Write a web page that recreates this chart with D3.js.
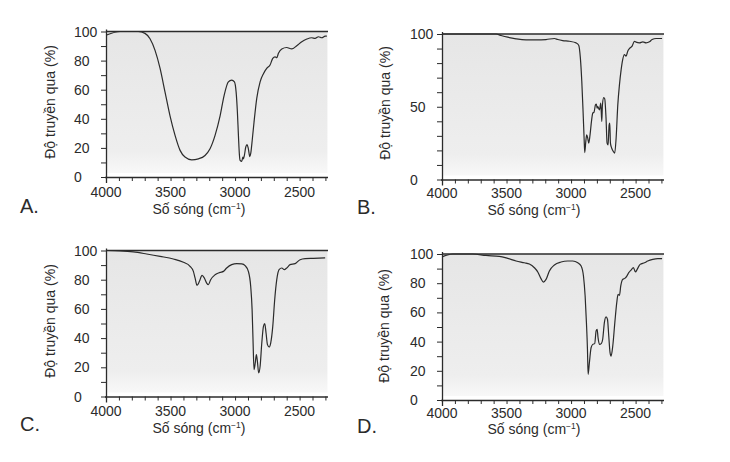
<!DOCTYPE html>
<html>
<head>
<meta charset="utf-8">
<script src="https://cdn.jsdelivr.net/npm/d3@7"></script>
<style>
  html, body { margin: 0; padding: 0; background: #ffffff; }
  svg text { font-family: "Liberation Sans", Arial, sans-serif; fill: #2b2b2b; }
</style>
</head>
<body>
<svg id="chart" width="730" height="462"></svg>
<script>
// ---------- DATA ----------
const panelLetters = ["A.", "B.", "C.", "D."];
const xTickLabels = [4000, 3500, 3000, 2500];
const yTickLabelsStandard = [0, 20, 40, 60, 80, 100];
const yTickLabelsB = [0, 50, 100];
const xAxisTitle = "Số sóng (cm";
const yAxisTitle = "Độ truyền qua (%)";

const wavenumberA = [3995,3891,3750,3698,3659,3620,3581,3543,3504,3465,3426,3388,3336,3284,3233,3194,3155,3116,3085,3052,3026,3005,2992,2982,2974,2966,2961,2948,2940,2935,2928,2917,2907,2897,2886,2879,2866,2853,2832,2806,2780,2755,2729,2708,2690,2677,2664,2638,2600,2561,2522,2483,2444,2406,2380,2354,2328,2302,2289];
const transmittanceA = [97.6,100,100,98.7,95,87,74.6,58.5,42,28.6,18.3,13.7,11.8,12.5,14.8,19.4,28.6,42,56,65.4,66.6,65.4,58.5,44.7,28.6,14.8,11.4,10.7,13.7,12.5,14.8,20.6,22.2,19.4,14,16,26.3,37.8,54,65.4,71,74.6,77,81.5,82.6,82,85,88,89,88,90.2,93,94.8,95.7,95.3,96.4,95.7,96.8,96.8];

const wavenumberB = [3995,3581,3543,3491,3426,3349,3271,3194,3129,3103,3065,3013,2961,2941,2928,2917,2907,2899,2894,2886,2879,2871,2863,2853,2842,2832,2822,2811,2804,2798,2793,2780,2770,2762,2757,2747,2739,2729,2721,2713,2705,2700,2695,2685,2672,2662,2651,2638,2625,2612,2600,2587,2574,2561,2548,2527,2509,2496,2470,2444,2419,2393,2372,2341,2295];
const transmittanceB = [100,100,99,97.8,96.7,96,96,96.2,96.9,96.2,95.5,95,93.9,92.3,83.6,67.5,46.8,28.4,18.5,26,30.7,28.4,25,30.7,39.9,45.6,46.3,51.3,51.8,49,50.1,47.9,52.5,39.9,51.3,56.3,55.4,42,25,23.8,37.6,38.7,25,21.5,19.2,18.1,28.4,51.3,65.2,75.5,82.4,85.9,84.7,88.2,90,91.7,95,94.4,93.9,94.6,93.9,94.6,96.2,96.9,96.9];

const wavenumberC = [3995,3891,3788,3685,3581,3478,3400,3349,3323,3310,3295,3276,3256,3238,3220,3207,3189,3155,3116,3090,3065,3026,2987,2948,2922,2897,2879,2868,2861,2853,2842,2835,2827,2817,2806,2793,2780,2770,2760,2749,2736,2724,2708,2693,2677,2659,2638,2618,2600,2574,2535,2496,2457,2393,2302];
const transmittanceC = [100,99.7,99,97.6,96,94.2,91.9,89.2,85.7,81.2,76.1,78.9,83,81.2,77.7,76.6,80,83.4,85,85.7,88,90.3,91,90.8,89.6,85.7,75.5,59.5,38.9,18.4,24.1,28.7,24.1,16.1,20.7,36.6,48,49.9,43.5,35.5,33.9,36.6,48,66.3,80,86.9,88,86.9,88,90.3,91,93.7,94.4,94.6,94.9];

const wavenumberD = [3995,3917,3840,3762,3659,3556,3491,3426,3362,3323,3284,3258,3233,3214,3194,3168,3129,3078,3026,2987,2948,2922,2904,2891,2881,2873,2868,2858,2845,2832,2817,2806,2798,2791,2780,2765,2755,2742,2729,2718,2708,2698,2690,2677,2661,2646,2636,2625,2615,2600,2584,2568,2553,2535,2517,2501,2488,2465,2431,2406,2367,2328,2295];
const transmittanceD = [98.2,100,100,100,99,98.4,97,95.2,94,93.2,90.6,87.7,83.1,80.8,82.6,88.4,92.5,94.5,95.2,95.2,94,91.8,84.9,71.2,53,34.7,17.6,25.6,35.8,38.1,38.6,47.3,48.4,42.7,38.1,38.8,41.6,53,57,55.3,43.8,32.4,30.1,37,53,66.7,72.4,71.7,78.1,82.6,83.3,84.9,87.2,89,90.6,87.7,89.5,92.9,94,95.2,96.3,96.8,96.8];

// ---------- LAYOUT ----------
const panels = [
  { letter: panelLetters[0], wn: wavenumberA, t: transmittanceA, yTicks: yTickLabelsStandard,
    x0: 106, x1: 328, yTop: 31.5, yBot: 177, lx: 20, ly: 213, ytx: 55, yty: 102, xtx: 199, xty: 214, xlb: 197 },
  { letter: panelLetters[1], wn: wavenumberB, t: transmittanceB, yTicks: yTickLabelsB,
    x0: 442, x1: 664, yTop: 34, yBot: 179.5, lx: 357, ly: 214, ytx: 390, yty: 103, xtx: 534, xty: 215, xlb: 198 },
  { letter: panelLetters[2], wn: wavenumberC, t: transmittanceC, yTicks: yTickLabelsStandard,
    x0: 106, x1: 328, yTop: 250.5, yBot: 396.5, lx: 20, ly: 431, ytx: 55, yty: 321, xtx: 199, xty: 433, xlb: 416 },
  { letter: panelLetters[3], wn: wavenumberD, t: transmittanceD, yTicks: yTickLabelsStandard,
    x0: 442, x1: 664, yTop: 254, yBot: 400, lx: 357, ly: 433, ytx: 389, yty: 326, xtx: 534, xty: 434, xlb: 418 }
];

const svg = d3.select("#chart");
const defs = svg.append("defs");
const grad = defs.append("linearGradient").attr("id", "shade").attr("x1", 0).attr("y1", 0).attr("x2", 0).attr("y2", 1);
grad.append("stop").attr("offset", "0%").attr("stop-color", "#e6e6e6");
grad.append("stop").attr("offset", "85%").attr("stop-color", "#eeeeee");
grad.append("stop").attr("offset", "100%").attr("stop-color", "#f8f8f8");

const ink = "#2b2b2b";

panels.forEach(p => {
  const g = svg.append("g");
  const x = d3.scaleLinear().domain([4000, 2280]).range([p.x0, p.x1]);
  const y = d3.scaleLinear().domain([0, 100]).range([p.yBot, p.yTop]);

  // shaded plot area
  g.append("rect")
    .attr("x", p.x0 + 1).attr("y", y(100))
    .attr("width", x(2300) - p.x0 + 1).attr("height", (y(0) - y(100)) - 4)
    .attr("fill", "url(#shade)");

  // 100% reference line
  g.append("line")
    .attr("x1", p.x0).attr("x2", p.x1)
    .attr("y1", y(100)).attr("y2", y(100))
    .attr("stroke", ink).attr("stroke-width", 1.3);

  // x axis (minor ticks every 100, labels every 500)
  const xAxis = d3.axisBottom(x)
    .tickValues(d3.range(4000, 2299, -100))
    .tickSize(4)
    .tickFormat("");
  const gx = g.append("g").attr("transform", `translate(0,${p.yBot})`).call(xAxis);
  gx.select(".domain").attr("d", `M${p.x0 - 1},0.5H${p.x1}`).attr("stroke", ink).attr("stroke-width", 1.3);
  gx.selectAll(".tick line").attr("stroke", ink).attr("stroke-width", 1);
  g.selectAll(".xlab").data(xTickLabels).enter().append("text")
    .attr("x", d => x(d)).attr("y", p.xlb)
    .attr("text-anchor", "middle").attr("font-size", 14)
    .text(d => d);

  // y axis (minor ticks every 10)
  const yAxis = d3.axisLeft(y)
    .tickValues(d3.range(0, 101, 10))
    .tickSize(5)
    .tickFormat("");
  const gy = g.append("g").attr("transform", `translate(${p.x0},0)`).call(yAxis);
  gy.select(".domain").attr("d", `M0.5,${p.yTop - 2}V${p.yBot + 6}`).attr("stroke", ink).attr("stroke-width", 1.3);
  gy.selectAll(".tick line").attr("stroke", ink).attr("stroke-width", 1);
  g.selectAll(".ylab").data(p.yTicks).enter().append("text")
    .attr("x", p.x0 - 32).attr("y", d => y(d) + 5)
    .attr("text-anchor", "start").attr("font-size", 14)
    .text(d => d);

  // spectrum line
  const pts = p.wn.map((w, i) => [w, p.t[i]]);
  const line = d3.line().x(d => x(d[0])).y(d => y(d[1])).curve(d3.curveMonotoneX);
  g.append("path").datum(pts)
    .attr("d", line)
    .attr("fill", "none").attr("stroke", ink).attr("stroke-width", 1.2)
    .attr("stroke-linejoin", "round");

  // axis titles
  const xt = g.append("text").attr("x", p.xtx).attr("y", p.xty)
    .attr("text-anchor", "middle").attr("font-size", 14);
  xt.append("tspan").text(xAxisTitle);
  xt.append("tspan").attr("font-size", 8.5).attr("dy", -5).text("−1");
  xt.append("tspan").attr("dy", 5).text(")");

  g.append("text")
    .attr("transform", `translate(${p.ytx},${p.yty}) rotate(-90)`)
    .attr("text-anchor", "middle").attr("font-size", 14)
    .text(yAxisTitle);

  // panel letter
  g.append("text").attr("x", p.lx).attr("y", p.ly)
    .attr("font-size", 20).text(p.letter);
});
</script>
</body>
</html>
